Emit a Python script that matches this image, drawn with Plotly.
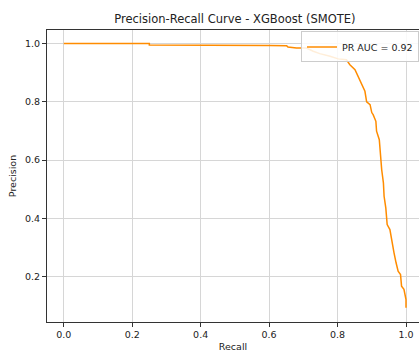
import plotly.graph_objects as go

recall = [0.0, 0.25, 0.25, 0.535, 0.535, 0.602, 0.651, 0.655, 0.680, 0.709, 0.729, 0.748,
          0.778, 0.802, 0.826, 0.836, 0.851, 0.860, 0.870, 0.880, 0.885, 0.895, 0.900, 0.904,
          0.912, 0.914, 0.922, 0.926, 0.929, 0.934, 0.936, 0.941, 0.945, 0.953, 0.958, 0.965,
          0.971, 0.977, 0.984, 0.987, 0.994, 1.0, 1.0]
precision = [1.0, 1.0, 0.995, 0.995, 0.993, 0.993, 0.992, 0.988, 0.984, 0.984, 0.973, 0.965,
             0.956, 0.947, 0.944, 0.927, 0.910, 0.887, 0.864, 0.836, 0.800, 0.790, 0.763, 0.756,
             0.733, 0.699, 0.670, 0.602, 0.567, 0.522, 0.476, 0.436, 0.379, 0.362, 0.322, 0.282,
             0.248, 0.219, 0.208, 0.168, 0.157, 0.122, 0.094]
legend_label = "PR AUC = 0.92"
x_ticks = [0.0, 0.2, 0.4, 0.6, 0.8, 1.0]
y_ticks = [0.2, 0.4, 0.6, 0.8, 1.0]

FONT = "DejaVu Sans"
TXT = "#222222"
fig = go.Figure()
fig.add_trace(go.Scatter(x=recall, y=precision, mode="lines", name=legend_label,
                         line=dict(color="#ff8c00", width=1.5)))

axis_common = dict(showgrid=True, gridcolor="#d6d6d6", gridwidth=1, zeroline=False,
                   showline=True, linecolor="#333333", linewidth=1,
                   ticks="outside", ticklen=4, tickcolor="#333333",
                   tickfont=dict(family=FONT, size=9.5, color=TXT))

fig.update_layout(
    width=419, height=352,
    margin=dict(l=47, r=0, t=30, b=30),
    paper_bgcolor="white", plot_bgcolor="white",
    font=dict(family=FONT, size=9.5, color=TXT),
    title=dict(text="Precision-Recall Curve - XGBoost (SMOTE)", x=0.505, xref="paper",
               xanchor="center", y=1 - 19 / 352, yref="container", yanchor="middle",
               font=dict(family=FONT, size=11.5, color=TXT)),
    xaxis=dict(range=[-0.049, 1.038], tickvals=x_ticks, ticktext=[f"{v:.1f}" for v in x_ticks],
               mirror=True,
               title=dict(text="Recall", standoff=4, font=dict(family=FONT, size=9.5, color=TXT)),
               **axis_common),
    yaxis=dict(range=[0.045, 1.046], tickvals=y_ticks, ticktext=[f"{v:.1f}" for v in y_ticks],
               title=dict(text="Precision", standoff=6, font=dict(family=FONT, size=9.5, color=TXT)),
               **axis_common),
    showlegend=True,
    legend=dict(x=1, xanchor="right", y=0.995, yanchor="top", bgcolor="rgba(255,255,255,0.85)",
                bordercolor="#cccccc", borderwidth=1, font=dict(family=FONT, size=9.5, color=TXT),
                itemwidth=30),
)

fig.write_html("out.html")
